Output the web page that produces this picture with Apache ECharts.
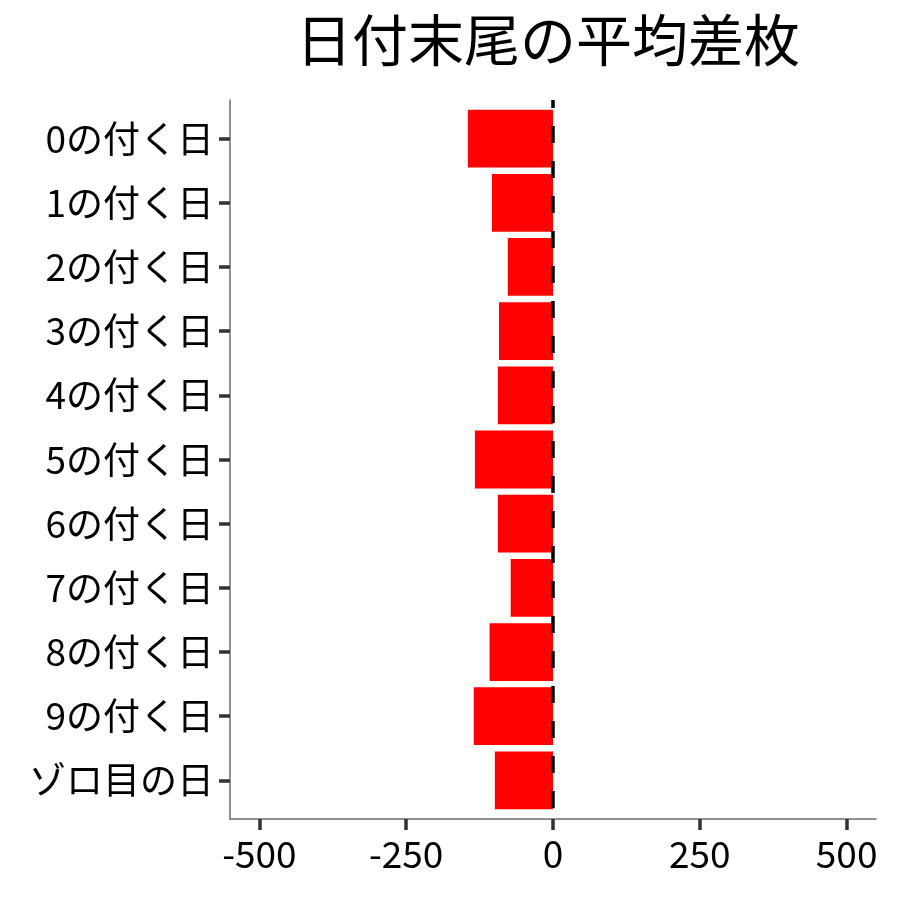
<!DOCTYPE html>
<html>
<head>
<meta charset="utf-8">
<script src="https://cdn.jsdelivr.net/npm/echarts@6/dist/echarts.min.js"></script>
<style>
	html, body { margin:0; padding:0; background:#fff; }
	#chart { width:900px; height:900px; }
</style>
</head>
<body>
<div id="chart"></div>
<script>
	const TITLE = '日付末尾の平均差枚';
	const categories = ['0の付く日', '1の付く日', '2の付く日', '3の付く日', '4の付く日', '5の付く日',
		'6の付く日', '7の付く日', '8の付く日', '9の付く日', 'ゾロ目の日'];
	const avg_diff = [-145, -104, -77, -92, -94, -133, -94, -72, -108, -135, -99];
	const x_ticks = [-500, -250, 0, 250, 500];
	const x_min = -550, x_max = 550;
	const zero_line = 0;

	const FONT = '"Noto Sans CJK JP", "Noto Sans", sans-serif';
	const AXIS_COLOR = '#6e6e6e';
	const TICK_COLOR = '#333';
	const tick_lo = x_ticks[0], tick_hi = x_ticks[x_ticks.length - 1];
	// padding between the axis ends and the outer ticks, in px
	const PAD = 646 * (tick_lo - x_min) / (x_max - x_min);

	let myChart = echarts.init(document.getElementById('chart'));
	let option = {
		backgroundColor: '#fff',
		animation: false,
		title: {
			text: TITLE,
			left: 543,
			top: 7,
			textAlign: 'center',
			textStyle: { fontFamily: FONT, fontSize: 56, fontWeight: 'normal', color: '#000' }
		},
		grid: [
			// frame: full axis lines
			{ left: 230, right: 24, top: 100, bottom: 81 },
			// x ticks and labels, evenly spaced
			{ left: 230 + PAD, right: 24 + PAD, top: 100, bottom: 81 },
			// bars, 0.6 expansion on the discrete axis
			{ left: 230 + PAD, right: 24 + PAD, top: 106.5, bottom: 87.5 }
		],
		xAxis: [
			{
				gridIndex: 0,
				type: 'value',
				min: x_min,
				max: x_max,
				splitLine: { show: false },
				axisLine: { show: true, onZero: false, lineStyle: { color: AXIS_COLOR, width: 1.5 } },
				axisTick: { show: false },
				axisLabel: { show: false }
			},
			{
				gridIndex: 1,
				type: 'category',
				boundaryGap: false,
				data: x_ticks.map(String),
				splitLine: { show: false },
				axisLine: { show: true, onZero: false, lineStyle: { color: 'rgba(0,0,0,0)', width: 0 } },
				axisTick: { show: true, inside: false, interval: 0, length: 11, lineStyle: { color: TICK_COLOR, width: 3.5 } },
				axisLabel: {
					interval: 0,
					margin: 16,
					fontFamily: FONT,
					fontSize: 37,
					color: '#000'
				}
			},
			{
				gridIndex: 2,
				type: 'value',
				min: tick_lo,
				max: tick_hi,
				show: false
			}
		],
		yAxis: [
			{
				gridIndex: 0,
				type: 'value',
				min: 0,
				max: 1,
				splitLine: { show: false },
				axisLine: { show: true, onZero: false, lineStyle: { color: AXIS_COLOR, width: 1.5 } },
				axisTick: { show: false },
				axisLabel: { show: false }
			},
			{
				gridIndex: 1,
				type: 'value',
				min: 0,
				max: 1,
				show: false
			},
			{
				gridIndex: 2,
				type: 'category',
				inverse: true,
				offset: PAD,
				data: categories,
				axisLine: { show: true, onZero: false, lineStyle: { color: 'rgba(0,0,0,0)', width: 0 } },
				axisTick: { show: true, inside: false, alignWithLabel: true, length: 11, lineStyle: { color: TICK_COLOR, width: 3.5 } },
				axisLabel: {
					margin: 16,
					fontFamily: FONT,
					fontSize: 37,
					color: '#000'
				}
			}
		],
		series: [
			{
				type: 'bar',
				xAxisIndex: 2,
				yAxisIndex: 2,
				data: avg_diff,
				barCategoryGap: '10%',
				itemStyle: { color: '#ff0000' },
				z: 2
			},
			{
				type: 'line',
				xAxisIndex: 0,
				yAxisIndex: 0,
				data: [[zero_line, 1], [zero_line, 0]],
				symbol: 'none',
				lineStyle: { color: '#000', width: 3.5, type: [17, 18], dashOffset: 9 },
				z: 5
			}
		]
	};
	myChart.setOption(option);
</script>
</body>
</html>
